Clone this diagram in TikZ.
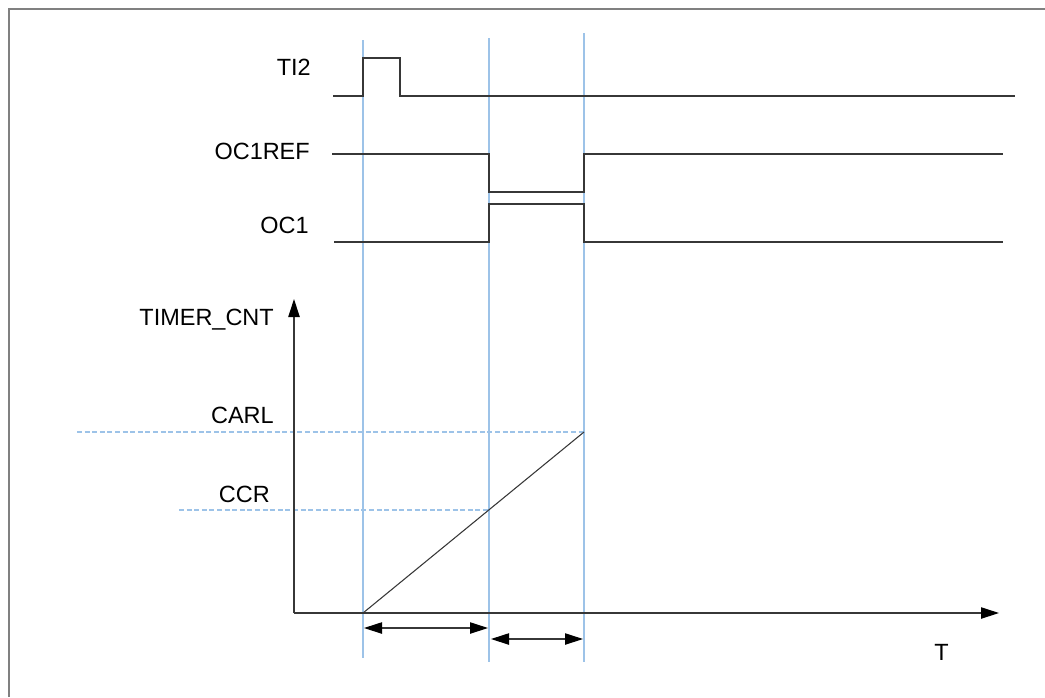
\documentclass[tikz,border=0pt]{standalone}
\usepackage{fontspec}
\setmainfont{Liberation Sans}
\usetikzlibrary{arrows.meta}
\definecolor{guide}{RGB}{157,195,232}
\definecolor{wave}{RGB}{55,55,55}

\begin{document}
\begin{tikzpicture}[x=0.75pt,y=-0.75pt,>={Triangle[length=13.5pt,width=8.5pt,color=black]},
  lbl/.style={font=\fontsize{17.6}{21}\selectfont,inner sep=0pt,anchor=base east},
  sig/.style={draw=wave,line width=0.9pt},
  marker/.style={draw=guide,line width=1.3pt},
  level/.style={draw=guide,dash pattern=on 3.8pt off 1.9pt,line width=0.8pt}]
  \useasboundingbox (0,0) rectangle (1045,697);
  \draw[gray,line width=1.1pt] (9,697) -- (9,9) -- (1045,9);

  % event markers
  \foreach \x/\top/\bot in {363/40/658,489/38/662,584/33/662}
    \draw[marker] (\x,\top) -- (\x,\bot);

  % waveforms
  \draw[sig] (333,96) -- (363,96) -- (363,58) -- (400,58) -- (400,96) -- (1015,96);
  \draw[sig] (332,154) -- (489,154) -- (489,192) -- (584,192) -- (584,154) -- (1003,154);
  \draw[sig] (334,242) -- (489,242) -- (489,204) -- (584,204) -- (584,242) -- (1003,242);
  \node[lbl] (ti2) at (311,75) {TI2};
  \node[lbl] (oc1ref) at (310,159) {OC1REF};
  \node[lbl] (oc1) at (309,233) {OC1};

  % counter
  \coordinate (origin) at (294,613);
  \coordinate (xend) at (999,613);
  \coordinate (yend) at (294,299);
  \coordinate (start) at (363,613);
  \coordinate (carl) at (584,432);
  \coordinate (ccr) at (489,510);
  \draw[level] (77,432) -- (carl);
  \draw[level] (179,510) -- (ccr);
  \draw[sig,->] (origin) -- (xend);
  \draw[sig,->] (origin) -- (yend);
  \draw[sig,line width=0.8pt] (start) -- (carl);
  \node[lbl] (cnt) at (274,325) {TIMER\_CNT};
  \node[lbl] (carltxt) at (274,423) {CARL};
  \node[lbl] (ccrtxt) at (270,502) {CCR};
  \node[lbl] (ttxt) at (949,660) {T};

  % intervals
  \coordinate (a0) at (364,628);
  \coordinate (a1) at (488,628);
  \coordinate (b0) at (491,639);
  \coordinate (b1) at (583,639);
  \draw[sig,<->] (a0) -- (a1);
  \draw[sig,<->] (b0) -- (b1);
\end{tikzpicture}
\end{document}
